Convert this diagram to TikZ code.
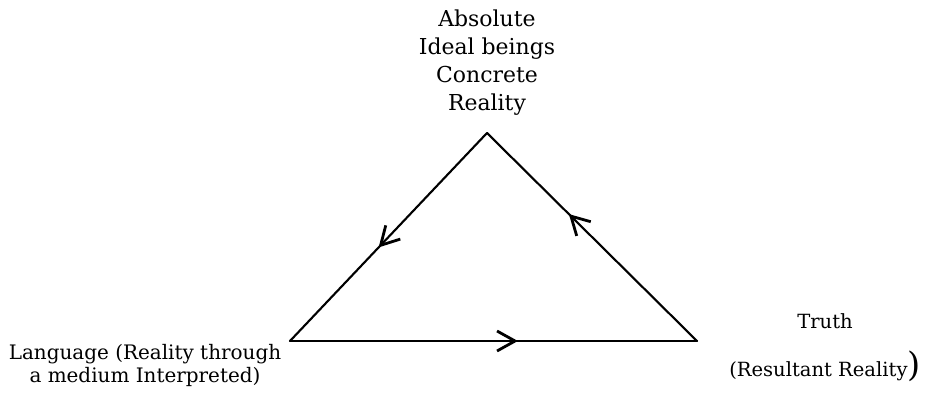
\documentclass[tikz,border=0pt]{standalone}
\usepackage{fontspec}
\setmainfont{DejaVu Serif}
\usetikzlibrary{arrows.meta,decorations.markings}
\tikzset{
  side/.style={line width=1.5pt, draw=black, line cap=round, line join=round},
  midarrow/.style={postaction={decorate}, decoration={markings,
      mark=at position #1 with {\arrow{Straight Barb[length=0.45cm, width=0.5cm, line width=2pt]}}}},
  toplabel/.style={font=\fontsize{15.6}{19.9}\selectfont, align=center, inner sep=0pt},
  cornerlabel/.style={font=\fontsize{14.2}{16.4}\selectfont, align=center, inner sep=0pt},
}

\begin{document}
\begin{tikzpicture}
\useasboundingbox (0,0) rectangle (23.375,10.075);
% corners of the triangle
\coordinate (apex) at (12.175,6.750);
\coordinate (lang) at (7.250,1.550);
\coordinate (truth) at (17.425,1.550);
% labels
\node[toplabel, anchor=north] (abs) at (12.175,9.825) {Absolute\\Ideal beings\\Concrete\\Reality};
\node[cornerlabel, anchor=north] (lng) at (3.625,1.475) {Language (Reality through\\a medium Interpreted)};
\node[font=\fontsize{13.9}{16.4}\selectfont, align=center, inner sep=0pt, anchor=north] (trh) at (20.625,2.250) {Truth\\[15pt](Resultant Reality{\fontsize{24}{24}\selectfont)}};
% sides
\draw[side, midarrow=0.55] (apex) -- (lang);
\draw[side, midarrow=0.56] (lang) -- (truth);
\draw[side, midarrow=0.61] (truth) -- (apex);
\end{tikzpicture}
\end{document}
